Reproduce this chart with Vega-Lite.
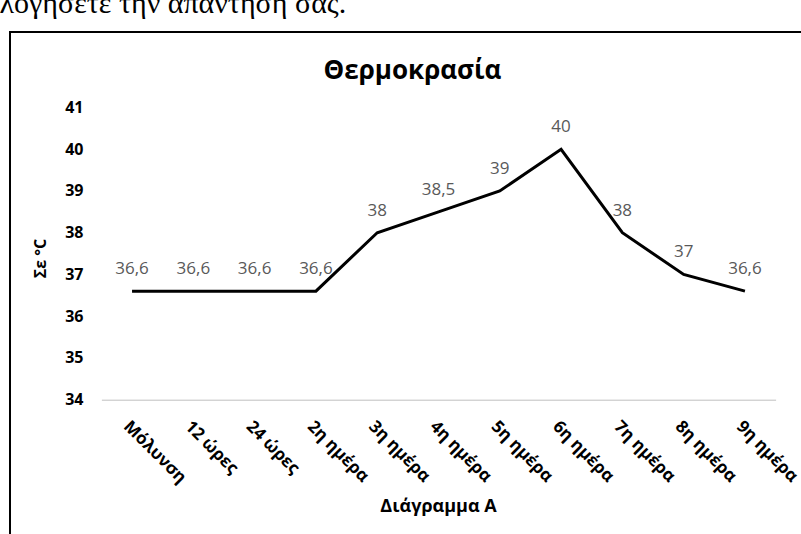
{
  "$schema": "https://vega.github.io/schema/vega-lite/v6.json",
  "autosize": "none",
  "width": 791,
  "height": 502,
  "padding": {"left": 10, "top": 32, "right": 0, "bottom": 0},
  "background": "white",
  "config": {
    "view": {"stroke": "#000000", "strokeWidth": 2, "strokeDash": [791, 1293, 502, 2]},
    "font": "Open Sans"
  },
  "data": {
    "values": [
      {"time": "Μόλυνση", "temp": 36.6, "label": "36,6"},
      {"time": "12 ώρες", "temp": 36.6, "label": "36,6"},
      {"time": "24 ώρες", "temp": 36.6, "label": "36,6"},
      {"time": "2η ημέρα", "temp": 36.6, "label": "36,6"},
      {"time": "3η ημέρα", "temp": 38, "label": "38"},
      {"time": "4η ημέρα", "temp": 38.5, "label": "38,5"},
      {"time": "5η ημέρα", "temp": 39, "label": "39"},
      {"time": "6η ημέρα", "temp": 40, "label": "40"},
      {"time": "7η ημέρα", "temp": 38, "label": "38"},
      {"time": "8η ημέρα", "temp": 37, "label": "37"},
      {"time": "9η ημέρα", "temp": 36.6, "label": "36,6"}
    ]
  },
  "resolve": {"axis": {"x": "independent", "y": "independent"}},
  "layer": [
    {
      "mark": {"type": "line", "color": "#000000", "strokeWidth": 3, "strokeJoin": "miter"},
      "encoding": {
        "x": {
          "field": "time", "type": "nominal", "sort": null, "bandPosition": 0.5,
          "scale": {"type": "band", "range": [91.4, 765.6], "paddingInner": 0, "paddingOuter": 0},
          "axis": {
            "orient": "bottom",
            "offset": -134.3,
            "title": "Διάγραμμα Α",
            "titleFont": "Open Sans",
            "titleFontSize": 18,
            "titleFontWeight": "bold",
            "titleColor": "#000000",
            "titleX": 428,
            "titleY": 107,
            "titleBaseline": "middle",
            "titleAlign": "center",
            "domain": true,
            "domainColor": "#bfbfbf",
            "domainWidth": 1,
            "ticks": false,
            "tickSize": 0,
            "grid": false,
            "labelAngle": 45,
            "labelAlign": "left",
            "labelBaseline": "top",
            "labelPadding": 18,
            "labelFont": "Open Sans",
            "labelFontSize": 17,
            "labelFontWeight": "bold",
            "labelColor": "#000000"
          }
        },
        "y": {
          "field": "temp", "type": "quantitative",
          "scale": {"domain": [34, 41], "range": [367.7, 75.5], "zero": false, "nice": false},
          "axis": {
            "orient": "left",
            "offset": -81,
            "values": [34, 35, 36, 37, 38, 39, 40, 41],
            "format": "d",
            "title": "Σε °C",
            "titleFont": "Open Sans",
            "titleFontSize": 16,
            "titleFontWeight": "bold",
            "titleColor": "#000000",
            "titleAngle": -90,
            "titleX": -51,
            "titleY": 226,
            "titleAlign": "center",
            "titleBaseline": "middle",
            "domain": false,
            "ticks": false,
            "tickSize": 0,
            "grid": false,
            "labelPadding": 8,
            "labelFont": "Open Sans",
            "labelFontSize": 16,
            "labelFontWeight": "bold",
            "labelColor": "#000000"
          }
        }
      }
    },
    {
      "mark": {"type": "text", "dy": -17, "baseline": "alphabetic", "align": "center", "font": "Open Sans", "fontSize": 17, "color": "#595959"},
      "encoding": {
        "x": {
          "field": "time", "type": "nominal", "sort": null, "bandPosition": 0.5,
          "axis": {
            "orient": "top",
            "offset": 0,
            "labels": false,
            "ticks": false,
            "domain": false,
            "grid": false,
            "title": "λογήσετε την απάντησή σας.",
            "titleFont": "Liberation Serif",
            "titleFontSize": 30,
            "titleFontWeight": "normal",
            "titleColor": "#000000",
            "titleX": -11,
            "titleY": -20,
            "titleAlign": "left",
            "titleBaseline": "alphabetic"
          }
        },
        "y": {
          "field": "temp", "type": "quantitative",
          "axis": {
            "orient": "right",
            "offset": 0,
            "labels": false,
            "ticks": false,
            "domain": false,
            "grid": false,
            "title": "Θερμοκρασία",
            "titleFont": "Open Sans",
            "titleFontSize": 26,
            "titleFontWeight": "bold",
            "titleColor": "#000000",
            "titleAngle": 0,
            "titleX": -389,
            "titleY": 38,
            "titleAlign": "center",
            "titleBaseline": "middle"
          }
        },
        "text": {"field": "label", "type": "nominal"}
      }
    }
  ]
}
